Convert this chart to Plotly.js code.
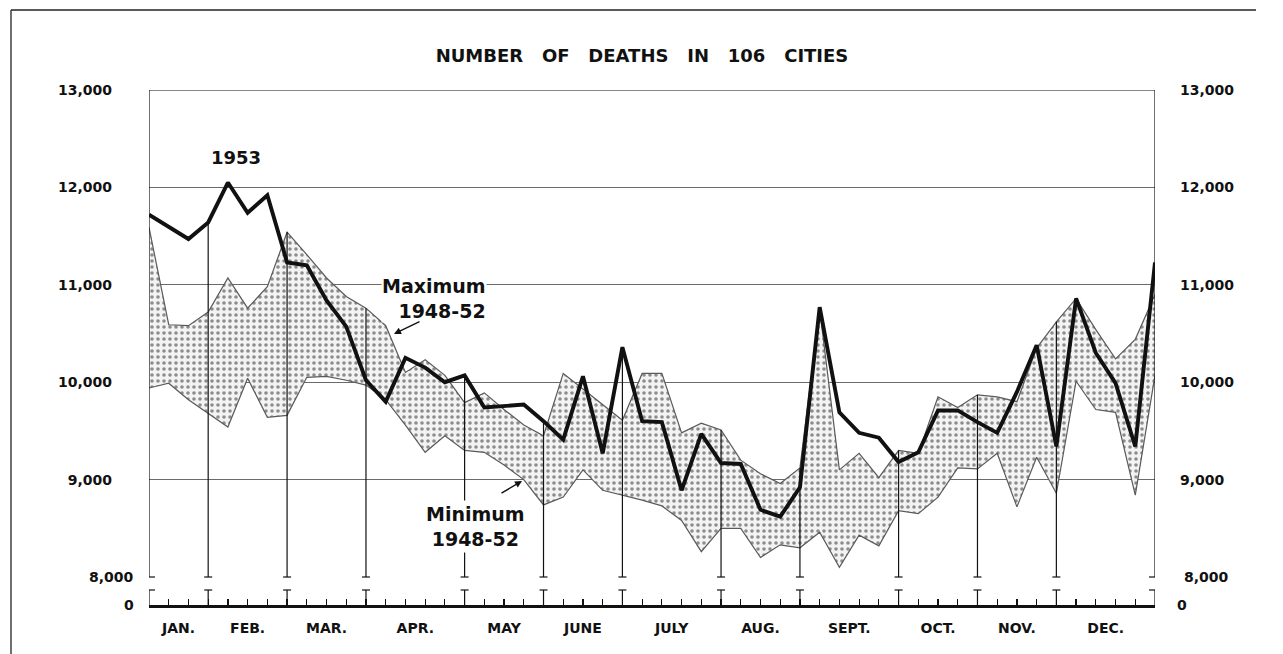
<!DOCTYPE html>
<html><head><meta charset="utf-8">
<script src="https://cdn.plot.ly/plotly-3.0.1.min.js"></script>
<style>html,body{margin:0;padding:0;background:#fff;} #chart{width:1283px;height:654px;}</style>
</head><body><div id="chart"></div>
<script>
// ---- data ----
const weeks = [1,2,3,4,5,6,7,8,9,10,11,12,13,14,15,16,17,18,19,20,21,22,23,24,25,26,27,28,29,30,31,32,33,34,35,36,37,38,39,40,41,42,43,44,45,46,47,48,49,50,51,52];
const deaths1953 = [11720,11590,11470,11640,12050,11740,11920,11230,11200,10840,10570,10020,9800,10250,10150,10000,10070,9740,9760,9770,9600,9410,10060,9270,10360,9600,9590,8890,9470,9170,9160,8690,8620,8920,10770,9690,9480,9430,9180,9280,9710,9710,9590,9480,9900,10380,9340,10860,10300,9990,9340,11230];
const max4852 = [11590,10590,10580,10720,11070,10760,10980,11540,11310,11070,10880,10760,10580,10100,10230,10070,9790,9890,9720,9560,9450,10090,9930,9770,9610,10090,10090,9480,9580,9510,9200,9060,8960,9120,10750,9100,9270,9020,9300,9270,9850,9740,9870,9850,9800,10350,10620,10860,10540,10240,10440,10900];
const min4852 = [9940,9990,9820,9680,9540,10040,9640,9660,10050,10060,10020,9970,9820,9560,9280,9450,9300,9280,9150,9000,8740,8820,9100,8890,8840,8790,8730,8580,8260,8500,8500,8200,8330,8300,8460,8100,8430,8320,8680,8650,8820,9120,9110,9270,8720,9230,8860,10010,9720,9690,8840,10070];
const monthNames = ['JAN.','FEB.','MAR.','APR.','MAY','JUNE','JULY','AUG.','SEPT.','OCT.','NOV.','DEC.'];
const monthCenters = [2.5,6,10,14.5,19,23,27.5,32,36.5,41,45,49.5];
const monthBoundaries = [4,8,12,17,21,25,30,34,39,43,47];
const yTickVals = [9000,10000,11000,12000,13000];
const yTickText = ['9,000','10,000','11,000','12,000','13,000'];
const breakVals = [8000, 7712.5];
const breakText = ['8,000','0'];

// ---- geometry ----
const L=149, R=1155, T=90, B=605;
const pxPerWeek = (R-L)/51;
const px2x = px => (px-L)/(R-L);         // paper x
const py2y = py => (B-py)/(B-T);         // paper y
const FONT = 'DejaVu Sans';

// month separator lines (from top of data to 8,000)
const mlx=[], mly=[];
monthBoundaries.forEach(w=>{
  const i = weeks.indexOf(w);
  mlx.push(w,w,null); mly.push(Math.max(deaths1953[i], max4852[i]), 8000, null);
});

const traces = [
  {x:weeks, y:min4852, mode:'lines', line:{color:'#5a5a5a', width:1.2}, hoverinfo:'skip'},
  {x:weeks, y:max4852, mode:'lines', line:{color:'#5a5a5a', width:1.2}, fill:'tonexty',
   fillcolor:'#f2f2f2',
   fillpattern:{shape:'.', bgcolor:'#f3f3f3', fgcolor:'#8c8c8c', size:6, solidity:0.28}, hoverinfo:'skip'},
  {x:mlx, y:mly, mode:'lines', line:{color:'#111', width:1.2}, hoverinfo:'skip'},
  {x:weeks, y:deaths1953, mode:'lines', line:{color:'#111', width:3.9}, hoverinfo:'skip'},
  {x:[weeks[0]], y:[yTickVals[0]], yaxis:'y2', mode:'markers', marker:{opacity:0}, hoverinfo:'skip'},
  {x:[weeks[0]], y:[yTickVals[0]], xaxis:'x2', mode:'markers', marker:{opacity:0}, hoverinfo:'skip'}
];

const shapes = [];
const ln = (o)=>Object.assign({type:'line', line:{color:'#111', width:1.2}, layer:'above'}, o);
const dw = 4/pxPerWeek;
// frame: left, right, top
shapes.push(ln({xref:'x', yref:'y', x0:weeks[0], x1:weeks[0], y0:8000, y1:13000}));
shapes.push(ln({xref:'x', yref:'y', x0:weeks[51], x1:weeks[51], y0:8000, y1:13000}));
shapes.push(ln({xref:'x', yref:'y', x0:weeks[0], x1:weeks[51], y0:13000, y1:13000}));
// feet at 8,000
shapes.push(ln({xref:'x', yref:'y', x0:weeks[0], x1:weeks[0]+1.5*dw, y0:8000, y1:8000}));
shapes.push(ln({xref:'x', yref:'y', x0:weeks[51]-1.5*dw, x1:weeks[51], y0:8000, y1:8000}));
monthBoundaries.forEach(w=>{
  shapes.push(ln({xref:'x', yref:'y', x0:w-dw, x1:w+dw, y0:8000, y1:8000}));
  shapes.push(ln({xref:'x', yref:'paper', x0:w, x1:w, y0:0, y1:py2y(590)}));
  shapes.push(ln({xref:'x', yref:'paper', x0:w-dw, x1:w+dw, y0:py2y(590), y1:py2y(590)}));
});
// brackets at ends of the zero axis
shapes.push(ln({xref:'x', yref:'paper', x0:weeks[0], x1:weeks[0], y0:0, y1:py2y(590)}));
shapes.push(ln({xref:'x', yref:'paper', x0:weeks[0], x1:weeks[0]+1.5*dw, y0:py2y(590), y1:py2y(590)}));
shapes.push(ln({xref:'x', yref:'paper', x0:weeks[51], x1:weeks[51], y0:0, y1:py2y(590)}));
shapes.push(ln({xref:'x', yref:'paper', x0:weeks[51]-1.5*dw, x1:weeks[51], y0:py2y(590), y1:py2y(590)}));
// outer page border (left + top)
shapes.push(ln({xref:'paper', yref:'paper', x0:px2x(11), x1:px2x(11), y0:py2y(10), y1:py2y(700), line:{color:'#222', width:1.3}}));
shapes.push(ln({xref:'paper', yref:'paper', x0:px2x(11), x1:px2x(1256), y0:py2y(10), y1:py2y(10), line:{color:'#222', width:1.3}}));

const bold = {family:FONT, color:'#111', weight:'bold'};
const annotations = [
  {xref:'paper', yref:'y', x:px2x(136), y:breakVals[0], text:breakText[0], showarrow:false, xanchor:'right', yanchor:'middle', font:Object.assign({size:14}, bold)},
  {xref:'paper', yref:'y', x:px2x(136), y:breakVals[1], text:breakText[1], showarrow:false, xanchor:'right', yanchor:'middle', font:Object.assign({size:14}, bold)},
  {xref:'paper', yref:'y', x:px2x(1182), y:breakVals[0], text:breakText[0], showarrow:false, xanchor:'left', yanchor:'middle', font:Object.assign({size:14}, bold)},
  {xref:'paper', yref:'y', x:px2x(1175), y:breakVals[1], text:breakText[1], showarrow:false, xanchor:'left', yanchor:'middle', font:Object.assign({size:14}, bold)},
  {xref:'paper', yref:'paper', x:px2x(236), y:py2y(157), text:'1953', showarrow:false, xanchor:'center', yanchor:'middle', font:Object.assign({size:18}, bold)},
  {xref:'paper', yref:'paper', x:px2x(487), y:py2y(298), text:'Maximum<br>1948-52', align:'right', showarrow:false, xanchor:'right', yanchor:'middle', bgcolor:'#ffffff', borderpad:0, font:Object.assign({size:19}, bold)},
  {xref:'paper', yref:'paper', x:px2x(475), y:py2y(526), text:'Minimum<br>1948-52', align:'center', showarrow:false, xanchor:'center', yanchor:'middle', bgcolor:'#ffffff', borderpad:2, font:Object.assign({size:19}, bold)},
  {xref:'paper', yref:'paper', x:px2x(394), y:py2y(334), ax:27, ay:-13, text:'', showarrow:true, arrowhead:2, arrowsize:1, arrowwidth:1.4, arrowcolor:'#111'},
  {xref:'paper', yref:'paper', x:px2x(522), y:py2y(481), ax:-22, ay:13, text:'', showarrow:true, arrowhead:2, arrowsize:1, arrowwidth:1.4, arrowcolor:'#111'}
];

const layout = {
  width:1283, height:654,
  margin:{l:L, r:1283-R, t:T, b:654-B, pad:0},
  paper_bgcolor:'#fff', plot_bgcolor:'#fff',
  showlegend:false, hovermode:false,
  font:{family:FONT, color:'#111'},
  title:{text:'NUMBER\u00a0\u00a0\u00a0OF\u00a0\u00a0\u00a0DEATHS\u00a0\u00a0\u00a0IN\u00a0\u00a0\u00a0106\u00a0\u00a0\u00a0CITIES', font:Object.assign({size:18}, bold),
         xref:'container', yref:'container', x:642/1283, y:1-56/654, xanchor:'center', yanchor:'middle'},
  xaxis:{range:[weeks[0], weeks[51]], tickvals:monthCenters, ticktext:monthNames, ticks:'', showgrid:false, zeroline:false,
         showline:true, linecolor:'#111', linewidth:3, tickfont:Object.assign({size:14}, bold), ticklabelstandoff:8},
  xaxis2:{overlaying:'x', anchor:'y', range:[weeks[0], weeks[51]], tickvals:weeks, ticks:'inside', ticklen:6, tickwidth:1.2, tickcolor:'#111',
          showticklabels:false, showgrid:false, zeroline:false, showline:false},
  yaxis:{range:[breakVals[1], 13000], tickvals:yTickVals, ticktext:yTickText, ticks:'', showgrid:true, gridcolor:'#6a6a6a', gridwidth:1,
         zeroline:false, showline:false, tickfont:Object.assign({size:14}, bold), ticklabelstandoff:36},
  yaxis2:{overlaying:'y', side:'right', range:[breakVals[1], 13000], tickvals:yTickVals, ticktext:yTickText, ticks:'', showgrid:false,
          zeroline:false, showline:false, tickfont:Object.assign({size:14}, bold), ticklabelstandoff:24},
  shapes:shapes, annotations:annotations
};
Plotly.newPlot('chart', traces, layout, {staticPlot:true, displayModeBar:false});
</script></body></html>
